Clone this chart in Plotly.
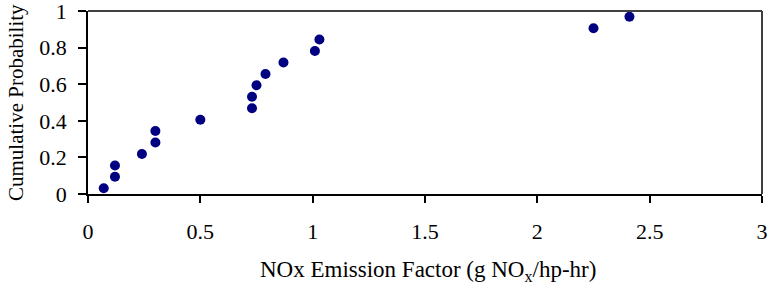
import plotly.graph_objects as go

emission_factor = [0.07, 0.12, 0.12, 0.24, 0.30, 0.30, 0.50, 0.73, 0.73, 0.75, 0.79, 0.87, 1.01, 1.03, 2.25, 2.41]
cumulative_prob = [0.031, 0.094, 0.156, 0.219, 0.281, 0.344, 0.406, 0.469, 0.531, 0.594, 0.656, 0.719, 0.781, 0.844, 0.906, 0.969]
x_ticks = [0, 0.5, 1, 1.5, 2, 2.5, 3]
x_tick_labels = ["0", "0.5", "1", "1.5", "2", "2.5", "3"]
y_ticks = [0, 0.2, 0.4, 0.6, 0.8, 1]
y_tick_labels = ["0", "0.2", "0.4", "0.6", "0.8", "1"]
x_title = "NOx Emission Factor (g NO<sub>x</sub>/hp-hr)"
y_title = "Cumulative Probability"

font = "Liberation Serif"
W, H = 778, 286
ML, MR, MT, MB = 88, 16, 11, 92
PW, PH = W - ML - MR, H - MT - MB

fig = go.Figure()
fig.add_trace(go.Scatter(
    x=emission_factor, y=cumulative_prob, mode="markers",
    marker=dict(color="#000080", size=10, line=dict(width=0)),
    showlegend=False, cliponaxis=False,
))

fig.update_layout(
    width=W, height=H,
    margin=dict(l=ML, r=MR, t=MT, b=MB, autoexpand=False),
    paper_bgcolor="white", plot_bgcolor="white",
    font=dict(family=font, size=22, color="black"),
    xaxis=dict(
        range=[0, 3], tickvals=x_ticks, ticktext=x_tick_labels,
        showgrid=False, zeroline=False, automargin=False,
        showline=True, linecolor="black", linewidth=1.5,
        ticks="outside", ticklen=7, tickcolor="black", tickwidth=1.5,
        ticklabelstandoff=10, ticklabeloverflow="allow",
        tickfont=dict(family=font, size=22, color="black"),
    ),
    yaxis=dict(
        range=[0, 1], tickvals=y_ticks, ticktext=y_tick_labels,
        showgrid=False, zeroline=False, automargin=False,
        showline=True, linecolor="black", linewidth=1.5,
        ticks="outside", ticklen=8, tickcolor="black", tickwidth=1.5,
        ticklabelstandoff=7, ticklabeloverflow="allow",
        tickfont=dict(family=font, size=22, color="black"),
    ),
    shapes=[
        dict(type="line", xref="paper", yref="paper", x0=0, x1=1, y0=1, y1=1,
             line=dict(color="#404040", width=2)),
        dict(type="line", xref="paper", yref="paper", x0=1, x1=1, y0=0, y1=1,
             line=dict(color="#404040", width=2)),
    ],
    annotations=[
        dict(text=x_title, xref="paper", yref="paper",
             x=(428 - ML) / PW, y=(MT + PH - 271) / PH,
             xanchor="center", yanchor="middle", showarrow=False,
             font=dict(family=font, size=23, color="black")),
        dict(text=y_title, xref="paper", yref="paper", textangle=-90,
             x=(16 - ML) / PW, y=(MT + PH - 103) / PH,
             xanchor="center", yanchor="middle", showarrow=False,
             font=dict(family=font, size=21, color="black")),
    ],
)

fig.write_html("out.html")
